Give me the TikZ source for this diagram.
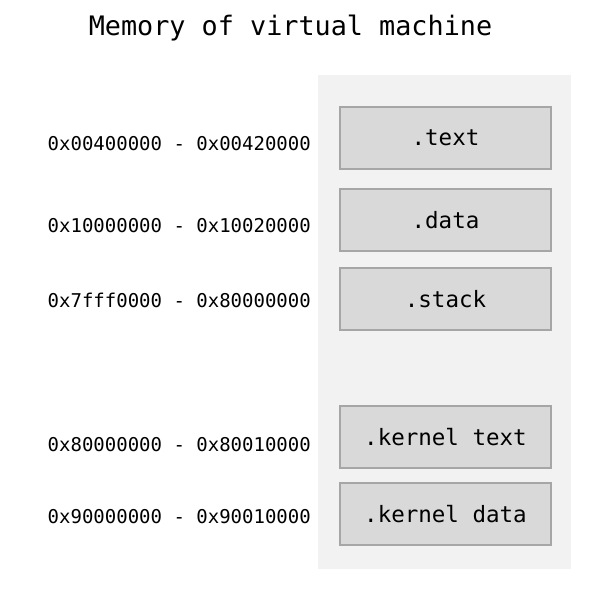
\documentclass[tikz,border=0pt]{standalone}
\usepackage{fontspec}
\setmonofont{DejaVu Sans Mono}
\definecolor{panel}{HTML}{F2F2F2}
\definecolor{boxfill}{HTML}{D9D9D9}
\definecolor{boxline}{HTML}{A6A6A6}
\tikzset{
  segbox/.style={draw=boxline, fill=boxfill, line width=1.5pt, minimum width=211pt, minimum height=62pt, inner sep=0pt, font=\fontsize{22.5}{26}\selectfont\ttfamily},
  addr/.style={anchor=east, inner sep=0pt, font=\fontsize{19}{22}\selectfont\ttfamily},
}
\begin{document}
\begin{tikzpicture}[x=1pt,y=-1pt]
\useasboundingbox (0,0) rectangle (610,589);
\fill[white] (0,0) rectangle (610,589);
\node[font=\fontsize{26.8}{30}\selectfont\ttfamily, inner sep=0pt] (title) at (290.5,28.5) {Memory of virtual machine};
\node[fill=panel, minimum width=253pt, minimum height=494pt, inner sep=0pt] (panel) at (444.5,322) {};
\node[segbox] (text) at (445.5,138) {.text};
\node[segbox] (data) at (445.5,220) {.data};
\node[segbox] (stack) at (445.5,299) {.stack};
\node[segbox] (ktext) at (445.5,437) {.kernel text};
\node[segbox] (kdata) at (445.5,514) {.kernel data};
\node[addr] (a1) at (311,144) {0x00400000 - 0x00420000};
\node[addr] (a2) at (311,226) {0x10000000 - 0x10020000};
\node[addr] (a3) at (311,300) {0x7fff0000 - 0x80000000};
\node[addr] (a4) at (311,445) {0x80000000 - 0x80010000};
\node[addr] (a5) at (311,517) {0x90000000 - 0x90010000};
\end{tikzpicture}
\end{document}
